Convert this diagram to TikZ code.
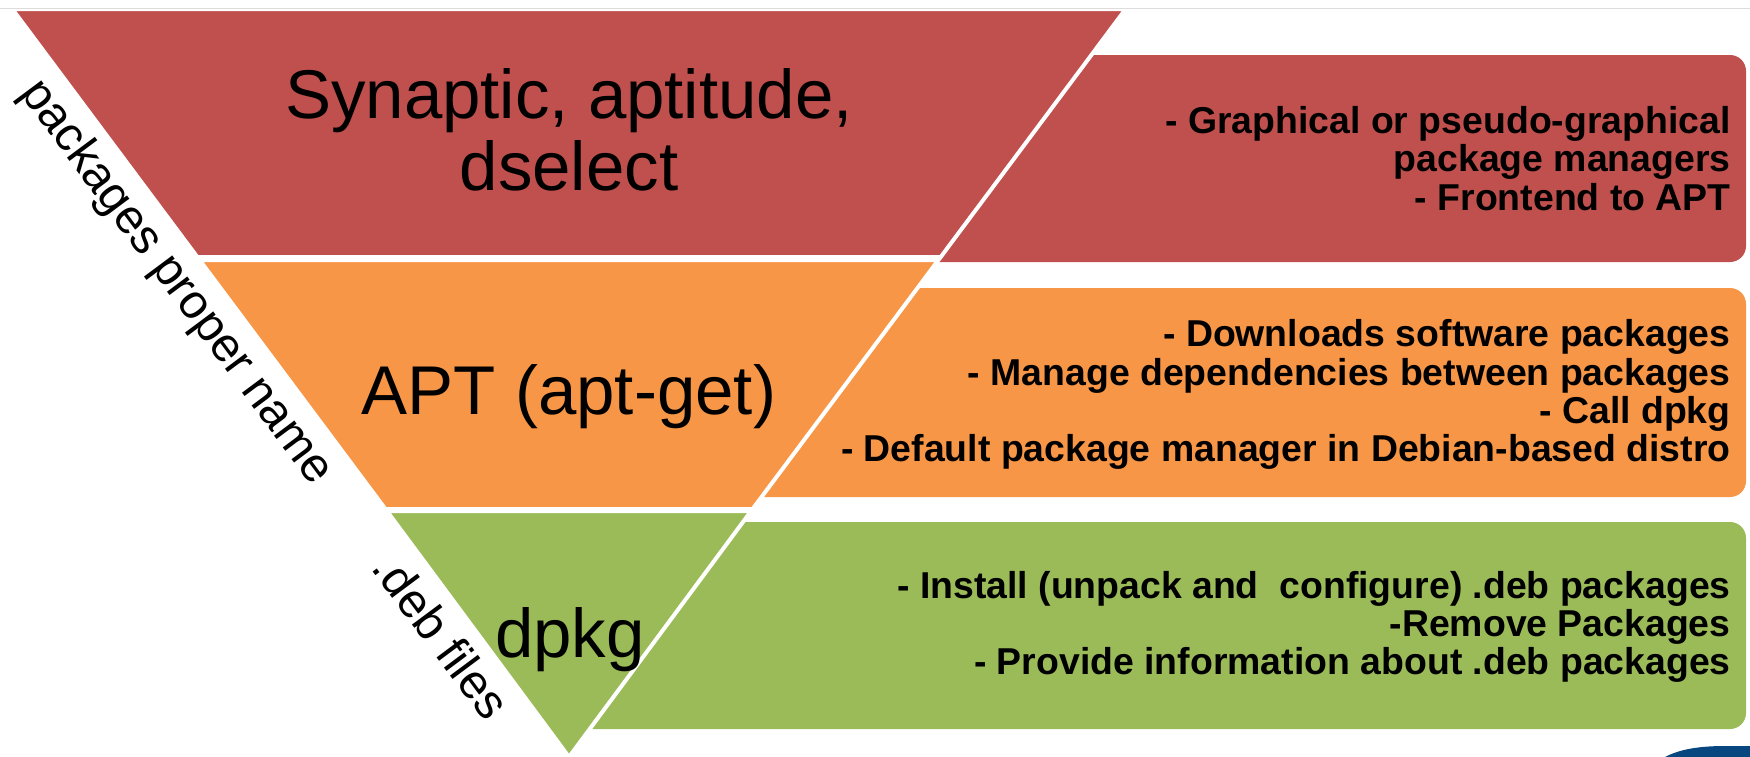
\documentclass[tikz,border=0pt]{standalone}
\usepackage{fontspec}
\setmainfont{Liberation Sans}
\definecolor{lred}{HTML}{C0504D}
\definecolor{lorange}{HTML}{F79646}
\definecolor{lgreen}{HTML}{9BBB59}
\definecolor{lblue}{HTML}{08467F}
\definecolor{topline}{HTML}{DDDDDD}
\tikzset{
  layer/.style={draw=white, line width=2pt, line join=miter},
  infobox/.style={rounded corners=8pt},
  bigtext/.style={font=\fontsize{34.5pt}{36pt}\selectfont, inner sep=0pt, anchor=base},
  boxtext/.style={font=\bfseries\fontsize{18.7pt}{19pt}\selectfont, inner sep=0pt, anchor=base east},
  sidetext/.style={font=\fontsize{24pt}{26pt}\selectfont, inner sep=0pt, anchor=base, rotate=-53.3}
}
\begin{document}
\begin{tikzpicture}[x=0.5pt,y=-0.5pt]
\useasboundingbox (0,0) rectangle (1750,756);
% description boxes (behind the pyramid)
\fill[lred, infobox] (900,55) rectangle (1746,262);
\fill[lorange, infobox] (700,288) rectangle (1746,497);
\fill[lgreen, infobox] (565,522) rectangle (1746,729);
% pyramid layers
\filldraw[fill=lred, layer] (12.3,9) -- (1125.7,9) -- (940.7,257) -- (197.3,257) -- cycle;
\filldraw[fill=lorange, layer] (199.6,260) -- (938.4,260) -- (752.6,509) -- (385.4,509) -- cycle;
\filldraw[fill=lgreen, layer] (386.9,511) -- (751.1,511) -- (569,757) -- cycle;
\draw[topline, line width=0.5pt] (0,8.5) -- (1750,8.5);
% corner decoration
\fill[lblue] (1665,757) .. controls (1680,749) and (1700,746) .. (1725,746) -- (1751,746) -- (1751,757) -- cycle;
% layer labels
\node[bigtext] (syn1) at (569,118) {Synaptic, aptitude,};
\node[bigtext] (syn2) at (569,190) {dselect};
\node[bigtext] (apt) at (569,414) {APT (apt-get)};
\node[bigtext] (dpkg) at (570,657) {dpkg};
% side labels
\node[sidetext] (side1) at (166,290) {packages proper name};
\node[sidetext] (side2) at (428,646) {.deb files};
% red box text
\node[boxtext] (r1) at (1731,133) {- Graphical or pseudo-graphical};
\node[boxtext] (r2) at (1731,171) {package managers};
\node[boxtext] (r3) at (1731,210) {- Frontend to APT};
% orange box text
\node[boxtext] (o1) at (1731,346) {- Downloads software packages};
\node[boxtext] (o2) at (1731,385) {- Manage dependencies between packages};
\node[boxtext] (o3) at (1731,423) {- Call dpkg};
\node[boxtext] (o4) at (1731,461) {- Default package manager in Debian-based distro};
% green box text
\node[boxtext] (g1) at (1731,598) {- Install (unpack and\ \ configure) .deb packages};
\node[boxtext] (g2) at (1731,636) {-Remove Packages};
\node[boxtext] (g3) at (1731,674) {- Provide information about .deb packages};
\end{tikzpicture}
\end{document}
